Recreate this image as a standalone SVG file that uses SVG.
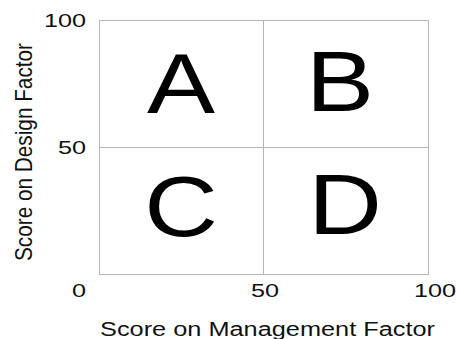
<svg xmlns="http://www.w3.org/2000/svg" width="456" height="339" viewBox="0 0 456 339">
  <style>
    .q { fill: #ffffff; stroke: #b4b4b4; stroke-width: 1; }
    .big { font-family: "Liberation Sans", Arial, sans-serif; font-size: 85px; fill: #000; text-anchor: middle; }
    .tick { font-family: "Liberation Sans", Arial, sans-serif; font-size: 19px; fill: #111; text-anchor: middle; }
    .axis { font-family: "Liberation Sans", Arial, sans-serif; font-size: 20px; fill: #111; text-anchor: middle; }
  </style>
  <rect width="456" height="339" fill="#ffffff"/>
  <g id="quadrant-A">
    <rect class="q" x="99.5" y="20.5" width="164" height="127"/>
    <text class="big" transform="translate(181,113) scale(1.2,1)">A</text>
  </g>
  <g id="quadrant-B">
    <rect class="q" x="263.5" y="20.5" width="165" height="127"/>
    <text class="big" transform="translate(340,111) scale(1.2,1)">B</text>
  </g>
  <g id="quadrant-C">
    <rect class="q" x="99.5" y="147.5" width="164" height="127"/>
    <text class="big" transform="translate(181,236) scale(1.2,1)">C</text>
  </g>
  <g id="quadrant-D">
    <rect class="q" x="263.5" y="147.5" width="165" height="127"/>
    <text class="big" transform="translate(345,234) scale(1.2,1)">D</text>
  </g>
  <g id="ticks">
    <text class="tick" transform="translate(65,27) scale(1.33,1)">100</text>
    <text class="tick" transform="translate(72,154) scale(1.33,1)">50</text>
    <text class="tick" transform="translate(79,297) scale(1.33,1)">0</text>
    <text class="tick" transform="translate(265,297) scale(1.33,1)">50</text>
    <text class="tick" transform="translate(435,297) scale(1.33,1)">100</text>
  </g>
  <g id="axis-labels">
    <text class="axis" x="267.5" y="336" textLength="335" lengthAdjust="spacingAndGlyphs">Score on Management Factor</text>
    <text class="axis" transform="translate(32,152) rotate(-90) scale(1,1.2)" textLength="218" lengthAdjust="spacingAndGlyphs">Score on Design Factor</text>
  </g>
</svg>
